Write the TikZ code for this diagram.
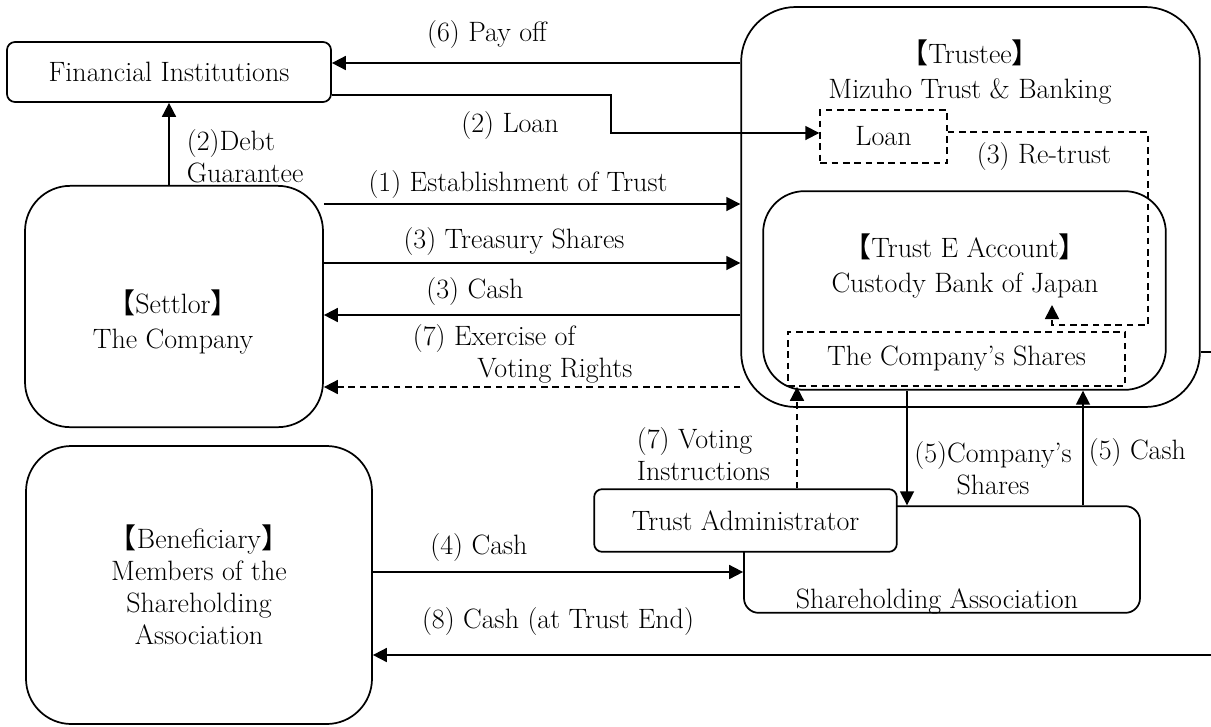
\documentclass[tikz,border=0pt]{standalone}
\usepackage{fontspec}
\usepackage{tikz}
\usetikzlibrary{arrows.meta,calc}
\newfontfamily\cjk{Noto Sans CJK JP}
\newcommand{\role}[1]{\makebox[0.45em][r]{\cjk 【}#1\makebox[0.45em][l]{\cjk 】}}

\begin{document}
\begin{tikzpicture}[
  x=0.75pt, y=-0.75pt,
  font=\fontsize{21}{24}\selectfont,
  line width=1.3pt,
  box/.style={draw, rounded corners=6pt, align=center, inner sep=0pt},
  dbox/.style={draw, dash pattern=on 5pt off 3.5pt, align=center, inner sep=0pt},
  lbl/.style={inner sep=0pt, align=center},
  arr/.style={-{Triangle[length=10.5pt, width=10.5pt]}},
  dasharr/.style={arr, dash pattern=on 5pt off 3.5pt}
]
\useasboundingbox (0,0) rectangle (1211,726);

% boxes
\node[box, minimum width=243pt, minimum height=45pt] (fin) at (169,72) {Financial Institutions};
\node[box, rounded corners=41pt, minimum width=344pt, minimum height=300pt] (trustee) at (970.5,207) {};
\node[lbl] (trusteetxt) at (970,72) {\role{Trustee}\\[2pt]Mizuho Trust \& Banking};
\node[dbox, minimum width=95pt, minimum height=40pt] (loan) at (883.5,136.5) {Loan};
\node[box, rounded corners=31pt, minimum width=302pt, minimum height=149pt] (trustE) at (964.5,290.5) {};
\node[lbl] (trustEtxt) at (965,266) {\role{Trust E Account}\\[2pt]Custody Bank of Japan};
\node[dbox, minimum width=253pt, minimum height=40.5pt] (shares) at (956.5,359) {The Company's Shares};
\node[box, rounded corners=34pt, minimum width=223.5pt, minimum height=181pt] (settlor) at (174,306.5) {};
\node[lbl] (settlortxt) at (173,322) {\role{Settlor}\\[2pt]The Company};
\node[box, rounded corners=34pt, minimum width=259.5pt, minimum height=208.5pt] (benef) at (199,585)
  {\role{Beneficiary}\\Members of the\\Shareholding\\Association};
\node[box, rounded corners=11pt, minimum width=297pt, minimum height=80pt] (assoc) at (942,559.5) {};
\node[lbl] (assoctxt) at (937,601) {Shareholding Association};
\node[box, fill=white, minimum width=227pt, minimum height=47pt] (admin) at (745.5,520.5) {Trust Administrator};

% flows
\draw[arr] (trustee.west |- 0,63) -- (fin.east |- 0,63);
\draw[arr] (fin.east |- 0,95) -| (611,133) -- (loan.west |- 0,133);
\draw[arr] (fin.south |- settlor.north) -- (fin.south);
\draw[arr] (settlor.east |- 0,204) -- (trustee.west |- 0,204);
\draw[arr] (settlor.east |- 0,263) -- (trustee.west |- 0,263);
\draw[arr] (trustee.west |- 0,315) -- (settlor.east |- 0,315);
\draw[dasharr] (trustee.west |- 0,387) -- (settlor.east |- 0,387);
\coordinate (retrust) at (1052,305);
\draw[dasharr] (loan.east |- 0,132) -| (1148,325) -| (retrust);
\draw[dasharr] (admin.north -| 797,0) -- (shares.south -| 797,0);
\draw[arr] (trustE.south -| 907,0) -- (assoc.north -| 907,0);
\draw[arr] (assoc.north -| 1083,0) -- (trustE.south -| 1083,0);
\draw[arr] (benef.east |- 0,572) -- (assoc.west |- 0,572);
\draw[arr] (trustee.east |- 0,352) -- (1240,352) |- (benef.east |- 0,655);

% labels
\node[lbl] (payoff) at (487,35) {(6) Pay off};
\node[lbl] (loanlbl) at (510,126) {(2) Loan};
\node[lbl, anchor=west, align=left] (debtlbl) at (186,156) {(2)Debt\\Guarantee};
\node[lbl] (estlbl) at (518,185) {(1) Establishment of Trust};
\node[lbl] (treaslbl) at (514,242) {(3) Treasury Shares};
\node[lbl] (cash3lbl) at (475,292) {(3) Cash};
\node[lbl, anchor=west, align=left] (exerlbl) at (412,354) {(7) Exercise of\\\hspace*{2.3em}Voting Rights};
\node[lbl] (retrustlbl) at (1044,157) {(3) Re-trust};
\node[lbl, anchor=west, align=left] (votelbl) at (636,454) {(7) Voting\\Instructions};
\node[lbl] (sharelbl) at (993,468) {(5)Company's\\Shares};
\node[lbl, anchor=west] (cash5lbl) at (1088,453) {(5) Cash};
\node[lbl] (cash4lbl) at (479,548) {(4) Cash};
\node[lbl] (cash8lbl) at (558,622) {(8) Cash (at Trust End)};
\end{tikzpicture}
\end{document}
